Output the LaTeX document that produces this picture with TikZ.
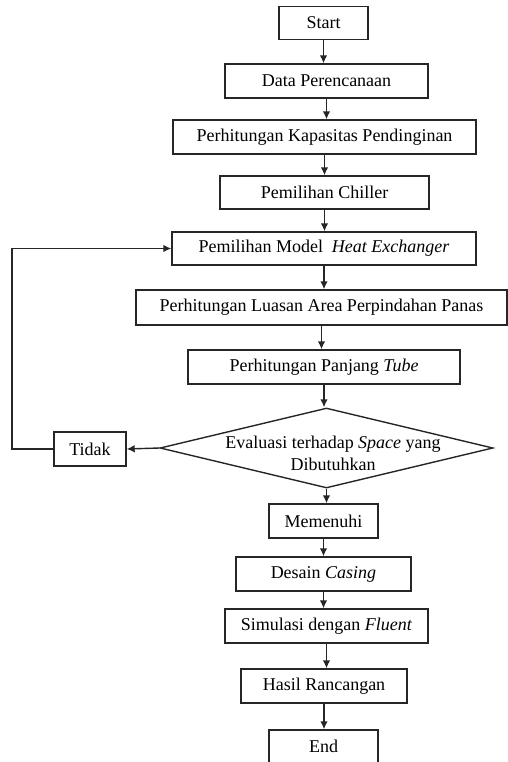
\documentclass[tikz,border=0pt]{standalone}
\usepackage{fontspec}
\setmainfont{Liberation Serif}
\usetikzlibrary{arrows.meta, shapes.geometric}
\tikzset{
	processnode/.style={
			shape=rectangle,
			draw=black!85,
			line width=0.7pt,
			minimum height=17pt,
			inner sep=0pt,
			font=\fontsize{9}{11}\selectfont
		},
	decisionnode/.style={
			shape=diamond,
			draw=black!85,
			line width=0.7pt,
			minimum width=166.5pt,
			minimum height=40pt,
			inner sep=0pt
		},
	flowarrow/.style={
			draw=black!85,
			line width=0.7pt,
			-{Latex[length=4pt,width=3.8pt]}
		}
}
\begin{document}
\begin{tikzpicture}[x=0.5pt, y=-0.5pt]

  \useasboundingbox (0,0) rectangle (508,762);

  \node[processnode, minimum width=44.5pt, minimum height=16.5pt] (start) at (323.5,23) {Start};
  \node[processnode, minimum width=101.5pt] (data) at (326.5,81) {Data Perencanaan};
  \node[processnode, minimum width=151.5pt] (kapasitas) at (324.5,137) {Perhitungan Kapasitas Pendinginan};
  \node[processnode, minimum width=104.5pt, minimum height=16.5pt] (chiller) at (324.5,192.5) {Pemilihan Chiller};
  \node[processnode, minimum width=152pt, minimum height=16.5pt] (model) at (324,248.5) {Pemilihan Model~ \textit{Heat Exchanger}};
  \node[processnode, minimum width=185.5pt, minimum height=17.5pt] (luasan) at (321.5,307.5) {Perhitungan Luasan Area Perpindahan Panas};
  \node[processnode, minimum width=136pt] (tube) at (324,367) {Perhitungan Panjang \textit{Tube}};
  \node[decisionnode, label={[xshift=3.25pt, yshift=-2.5pt, align=center, font=\fontsize{9}{11}\selectfont]center:Evaluasi terhadap \textit{Space} yang\\Dibutuhkan}] (evaluasi) at (326.5,448) {};
  \node[processnode, minimum width=36pt] (tidak) at (90,449) {Tidak};
  \node[processnode, minimum width=54.5pt] (memenuhi) at (323.5,521) {Memenuhi};
  \node[processnode, minimum width=87.5pt] (casing) at (323.5,574) {Desain \textit{Casing}};
  \node[processnode, minimum width=101.5pt] (simulasi) at (326.5,626) {Simulasi dengan \textit{Fluent}};
  \node[processnode, minimum width=83pt] (hasil) at (324,686) {Hasil Rancangan};
  \node[processnode, minimum width=54.5pt, minimum height=16.5pt] (end) at (323.5,746.5) {End};

  \coordinate (loop) at (12,449);

  \draw[flowarrow] (start.south) -- (start.south |- data.north);
  \draw[flowarrow] (data.south) -- (data.south |- kapasitas.north);
  \draw[flowarrow] (kapasitas.south) -- (kapasitas.south |- chiller.north);
  \draw[flowarrow] (chiller.south) -- (chiller.south |- model.north);
  \draw[flowarrow] (model.south) -- (model.south |- luasan.north);
  \draw[flowarrow] (luasan.south) -- (luasan.south |- tube.north);
  \draw[flowarrow] (tube.south) -- (tube.south |- evaluasi.north);
  \draw[flowarrow] (evaluasi.west) -- (tidak.east);
  \draw[flowarrow] (tidak.west) -- (loop) |- (model.west);
  \draw[flowarrow] (evaluasi.south) -- (evaluasi.south |- memenuhi.north);
  \draw[flowarrow] (memenuhi.south) -- (memenuhi.south |- casing.north);
  \draw[flowarrow] (casing.south) -- (casing.south |- simulasi.north);
  \draw[flowarrow] (simulasi.south) -- (simulasi.south |- hasil.north);
  \draw[flowarrow] (hasil.south) -- (hasil.south |- end.north);

\end{tikzpicture}
\end{document}
